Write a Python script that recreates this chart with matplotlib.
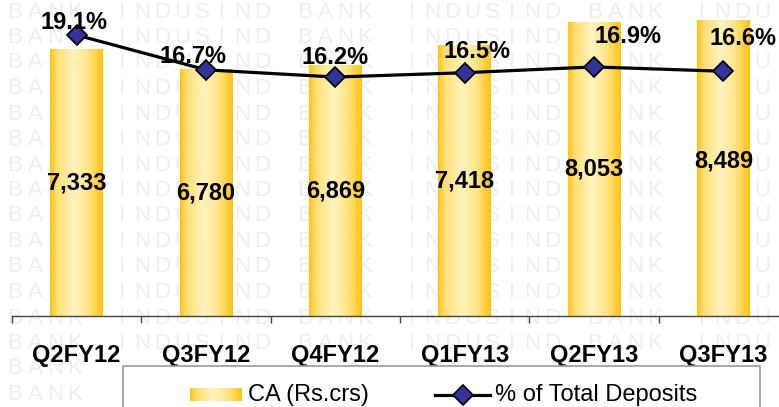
import numpy as np
import matplotlib
matplotlib.use('Agg')
import matplotlib.pyplot as plt
from matplotlib.patches import Rectangle
from matplotlib.lines import Line2D

quarters = ['Q2FY12', 'Q3FY12', 'Q4FY12', 'Q1FY13', 'Q2FY13', 'Q3FY13']
ca_values = [7333, 6780, 6869, 7418, 8053, 8489]
ca_labels = ['7,333', '6,780', '6,869', '7,418', '8,053', '8,489']
pct_deposits = [19.1, 16.7, 16.2, 16.5, 16.9, 16.6]
pct_labels = ['19.1%', '16.7%', '16.2%', '16.5%', '16.9%', '16.6%']

W, H = 779, 407
plt.rcParams['font.family'] = ['Liberation Sans', 'DejaVu Sans']

fig = plt.figure(figsize=(W / 100, H / 100), dpi=100)
fig.patch.set_facecolor('white')

def px(x):
    return x / W

def py(y):
    return 1 - y / H

# legend box extent (pixels)
lg_x0, lg_x1, lg_y0 = 123, 760, 366

# watermark (behind everything)
wm_word = {0: 'B', 20: 'A', 40: 'N', 60: 'K', 107: 'I', 127: 'N', 147: 'D', 167: 'U',
           187: 'S', 207: 'I', 227: 'N', 247: 'D'}
for r in range(16):
    yy = 12 + r * 25.5
    for start in range(-290, 800, 290):
        for off, ch in wm_word.items():
            xx = 15 + start + off
            if not (0 < xx < W - 8):
                continue
            if yy > lg_y0 - 6 and lg_x0 - 8 < xx < lg_x1 + 8:
                continue
            fig.text(px(xx), py(yy), ch, fontsize=16, color='#eeeeee',
                     ha='center', va='center', zorder=-5)

# gradient across each bar
gold = np.array([255, 196, 14]) / 255.0
pale = np.array([255, 243, 192]) / 255.0
t = np.linspace(0, 1, 200)
k = np.interp(t, [0, 0.12, 0.45, 0.72, 1.0], [0.0, 0.55, 1.0, 0.7, 0.0])
grad = (gold[None, :] * (1 - k[:, None]) + pale[None, :] * k[:, None])[None, :, :]

ax = fig.add_axes([px(12), py(316), px(788) - px(12), py(20) - py(316)])
ax.set_facecolor('none')
ymax = 8130
x = np.arange(len(quarters))
bw = 0.405
bars = ax.bar(x, ca_values, width=bw, color='none', edgecolor='none')
for b in bars:
    x0, x1 = b.get_x(), b.get_x() + b.get_width()
    ax.imshow(grad, extent=[x0, x1, 0, min(b.get_height(), ymax)], aspect='auto',
              interpolation='bilinear', zorder=2)
for xi, v, lab in zip(x, ca_values, ca_labels):
    ax.text(xi, v / 2, lab, ha='center', va='center', fontsize=17,
            fontweight='bold', color='black', zorder=4)

ax.set_xlim(-0.5, 5.5)
ax.set_ylim(0, ymax)
ax.set_yticks([])
for s in ['left', 'right', 'top']:
    ax.spines[s].set_visible(False)
ax.spines['bottom'].set_color('#444444')
ax.spines['bottom'].set_linewidth(1.0)
ax.set_xticks(x, quarters, fontsize=17, fontweight='bold')
ax.set_xticks(np.arange(-0.5, 6, 1), minor=True)
ax.tick_params(axis='x', which='major', length=0, pad=20)
ax.tick_params(axis='x', which='minor', length=5, width=1, color='#444444', direction='out')

ax2 = ax.twinx()
ax2.set_ylim(-0.3, 20.14)
ax2.plot(x, pct_deposits, color='black', lw=2.3, marker='D', markersize=10,
         markerfacecolor='#333399', markeredgecolor='black', markeredgewidth=1.2, zorder=5)
offsets = [(-3, 13), (-13, 13), (0, 20), (12, 21), (34, 30), (20, 33)]
for xi, v, lab, (dx, dy) in zip(x, pct_deposits, pct_labels, offsets):
    ax2.annotate(lab, (xi, v), xytext=(dx, dy), textcoords='offset pixels',
                 ha='center', va='center', fontsize=17, fontweight='bold', zorder=6)
ax2.set_yticks([])
for s in ax2.spines.values():
    s.set_visible(False)

# legend box
fig.add_artist(Rectangle((px(lg_x0), py(430)), px(lg_x1) - px(lg_x0), py(lg_y0) - py(430),
                         transform=fig.transFigure, facecolor='white',
                         edgecolor='#9a9a9a', lw=1.2, zorder=10))
lax = fig.add_axes([px(190), py(401), px(242) - px(190), py(388) - py(401)], zorder=11)
lax.imshow(grad, aspect='auto', interpolation='bilinear')
lax.axis('off')
fig.text(px(248), py(395), 'CA (Rs.crs)', fontsize=17, va='center', ha='left', zorder=11)
fig.add_artist(Line2D([px(435), px(490)], [py(395), py(395)], transform=fig.transFigure,
                      color='black', lw=2.3, zorder=11))
fig.add_artist(Line2D([px(463)], [py(395)], transform=fig.transFigure, marker='D',
                      markersize=10, markerfacecolor='#333399', markeredgecolor='black',
                      markeredgewidth=1.2, zorder=12))
fig.text(px(495), py(395), '% of Total Deposits', fontsize=17, va='center', ha='left', zorder=11)

fig.savefig('out.png', dpi=100)
